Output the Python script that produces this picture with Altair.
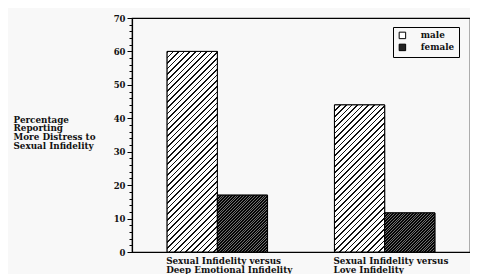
import math
import altair as alt
import pandas as pd

categories = ["Sexual Infidelity versus\nDeep Emotional Infidelity",
              "Sexual Infidelity versus\nLove Infidelity"]
sexes = ["male", "female"]
male_values = [60, 44]
female_values = [17, 11.7]
y_title = ["Percentage", "Reporting", "More Distress to", "Sexual Infidelity"]

rows = []
for c, m, f in zip(categories, male_values, female_values):
    rows.append({"cond": c, "sex": "male", "pct": m})
    rows.append({"cond": c, "sex": "female", "pct": f})
df = pd.DataFrame(rows)
df["key"] = df["cond"].str.slice(0, 60) + "|" + df["sex"]

W, H = 338, 234
YMAX = 70
P_IN, P_OUT = 0.4, 0.21
step = W / (len(categories) - P_IN + 2 * P_OUT)
bar_w = step * (1 - P_IN) / 2
FONT = "DejaVu Serif"

hatch_style = {
    "male": dict(period=5.6, frac=0.28, line="#111111", bg="#ffffff"),
    "female": dict(period=2.8, frac=0.62, line="#050505", bg="#6e6e6e"),
}


def hatch(value, sex):
    s = hatch_style[sex]
    w = bar_w
    h = max(value * H / YMAX, 1)
    P = s["period"]
    n = int(math.ceil((w + h) / P)) + 1
    k = n * P / (w * w + h * h)
    stops = []
    for i in range(n):
        a = i / n
        b = (i + s["frac"]) / n
        c = (i + 1) / n
        stops += [{"offset": a, "color": s["line"]},
                  {"offset": b, "color": s["line"]},
                  {"offset": b, "color": s["bg"]},
                  {"offset": c, "color": s["bg"]}]
    return {"gradient": "linear", "x1": 0, "y1": 0,
            "x2": k * w, "y2": k * h, "stops": stops}


x_enc = alt.X("cond:N", sort=categories,
              scale=alt.Scale(domain=categories, paddingInner=P_IN, paddingOuter=P_OUT),
              axis=alt.Axis(title=None, labelAlign="left", labelAngle=0,
                            labelOffset=-bar_w - 1,
                            labelBaseline="top", labelPadding=4, ticks=False,
                            labelExpr="split(datum.label, '\\n')", labelLineHeight=9,
                            labelFont=FONT, labelFontSize=8.8, labelFontWeight="bold",
                            labelColor="#111",
                            labelLimit=300, domainColor="black", domainWidth=1.2))
xo_enc = alt.XOffset("sex:N", scale=alt.Scale(domain=sexes, paddingInner=0, paddingOuter=0))
y_enc = alt.Y("pct:Q",
              scale=alt.Scale(domain=[0, YMAX], nice=False),
              axis=alt.Axis(values=list(range(0, YMAX + 1, 2)),
                            labelExpr="datum.value % 10 === 0 ? datum.label : ''",
                            tickSize={"condition": {"test": "datum.value % 10 === 0", "value": 5}, "value": 3},
                            labelPadding=2, tickColor="black", tickWidth=1,
                            domainColor="black", domainWidth=1.2, grid=False,
                            labelFont=FONT, labelFontSize=8.5, labelFontWeight="bold",
                            labelColor="#111", labelOverlap=False,
                            title=y_title, titleAngle=0, titleAlign="left",
                            titleBaseline="top", titleX=-119, titleY=97,
                            titleFont=FONT, titleFontSize=8.8, titleFontWeight="bold",
                            titleColor="#111", titleLineHeight=8.7))

base = alt.Chart(df).mark_bar(stroke="black", strokeWidth=1).encode(
    x=x_enc, xOffset=xo_enc, y=y_enc,
    fill=alt.Fill("sex:N", scale=alt.Scale(domain=sexes, range=["#ffffff", "#222222"]),
                  legend=alt.Legend(title=None, orient="none", legendX=261, legendY=9,
                                    strokeColor="black", padding=4, symbolType="square",
                                    symbolSize=42, symbolStrokeColor="black",
                                    symbolStrokeWidth=1, labelOffset=14, rowPadding=1,
                                    symbolOffset=1,
                                    labelFont=FONT, labelFontSize=8.8,
                                    labelFontWeight="bold", labelColor="#111")),
)

layers = [base]
for _, r in df.iterrows():
    layers.append(
        alt.Chart(df).transform_filter(alt.datum.key == r["key"]).mark_bar(
            fill=hatch(r["pct"], r["sex"]), stroke="black", strokeWidth=1
        ).encode(x=x_enc, xOffset=xo_enc, y=y_enc)
    )

chart = alt.layer(*layers).properties(
    width=W, height=H,
    autosize=alt.AutoSizeParams(type="none"),
    padding={"left": 124, "top": 10, "right": 0, "bottom": 22},
    background="#f8f8f8",
).configure_view(stroke="black", strokeWidth=1.2)

chart.save("out.html", embed_options={"renderer": "svg", "actions": False})
